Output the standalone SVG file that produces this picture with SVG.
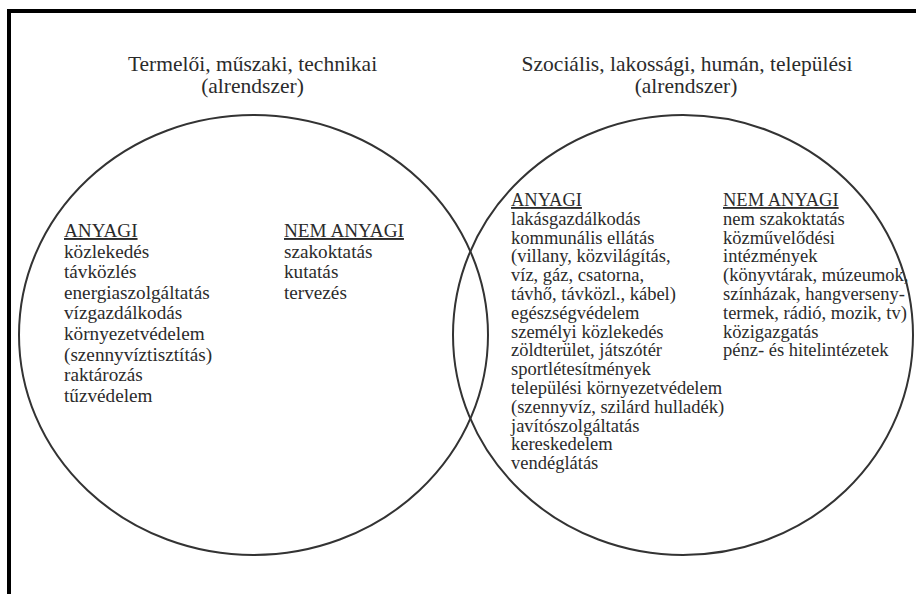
<svg xmlns="http://www.w3.org/2000/svg" width="916" height="594" viewBox="0 0 916 594">
<style>
  .frame { fill: #000; }
  .ring { fill: none; stroke: #333; stroke-width: 2; }
  text { font-family: "Liberation Serif", "Times New Roman", serif; fill: #2b2b2b; }
  .title { font-size: 21.5px; text-anchor: middle; }
  .l { font-size: 19.2px; }
  .r { font-size: 18.5px; }
  .hd { text-decoration: underline; }
</style>
<rect width="916" height="594" fill="#fff"/>
<g id="frame">
  <rect class="frame" x="7" y="9" width="909" height="4"/>
  <rect class="frame" x="7" y="9" width="4" height="585"/>
</g>
<g id="left-subsystem">
  <ellipse class="ring" cx="253.5" cy="335" rx="234.5" ry="220"/>
  <text class="title" x="252.5" y="70.5">Termelői, műszaki, technikai</text>
  <text class="title" x="252.5" y="92.5">(alrendszer)</text>
  <g id="left-anyagi" class="l">
    <text x="64" y="237" class="hd">ANYAGI</text>
    <text x="64" y="257.6">közlekedés</text>
    <text x="64" y="278.2">távközlés</text>
    <text x="64" y="298.8">energiaszolgáltatás</text>
    <text x="64" y="319.4">vízgazdálkodás</text>
    <text x="64" y="340">környezetvédelem</text>
    <text x="64" y="360.6">(szennyvíztisztítás)</text>
    <text x="64" y="381.2">raktározás</text>
    <text x="64" y="401.8">tűzvédelem</text>
  </g>
  <g id="left-nem-anyagi" class="l">
    <text x="284" y="237" class="hd">NEM ANYAGI</text>
    <text x="284" y="257.6">szakoktatás</text>
    <text x="284" y="278.2">kutatás</text>
    <text x="284" y="298.8">tervezés</text>
  </g>
</g>
<g id="right-subsystem">
  <ellipse class="ring" cx="683" cy="335" rx="230" ry="220"/>
  <text class="title" x="687" y="70.5">Szociális, lakossági, humán, települési</text>
  <text class="title" x="686" y="92.5">(alrendszer)</text>
  <g id="right-anyagi" class="r">
    <text x="511" y="206" class="hd">ANYAGI</text>
    <text x="511" y="224.8">lakásgazdálkodás</text>
    <text x="511" y="243.6">kommunális ellátás</text>
    <text x="511" y="262.4">(villany, közvilágítás,</text>
    <text x="511" y="281.2">víz, gáz, csatorna,</text>
    <text x="511" y="300">távhő, távközl., kábel)</text>
    <text x="511" y="318.8">egészségvédelem</text>
    <text x="511" y="337.6">személyi közlekedés</text>
    <text x="511" y="356.4">zöldterület, játszótér</text>
    <text x="511" y="375.2">sportlétesítmények</text>
    <text x="511" y="394">települési környezetvédelem</text>
    <text x="511" y="412.8">(szennyvíz, szilárd hulladék)</text>
    <text x="511" y="431.6">javítószolgáltatás</text>
    <text x="511" y="450.4">kereskedelem</text>
    <text x="511" y="469.2">vendéglátás</text>
  </g>
  <g id="right-nem-anyagi" class="r">
    <text x="723" y="206" class="hd">NEM ANYAGI</text>
    <text x="723" y="224.8">nem szakoktatás</text>
    <text x="723" y="243.6">közművelődési</text>
    <text x="723" y="262.4">intézmények</text>
    <text x="723" y="281.2">(könyvtárak, múzeumok,</text>
    <text x="723" y="300">színházak, hangverseny-</text>
    <text x="723" y="318.8">termek, rádió, mozik, tv)</text>
    <text x="723" y="337.6">közigazgatás</text>
    <text x="723" y="356.4">pénz- és hitelintézetek</text>
  </g>
</g>
</svg>
